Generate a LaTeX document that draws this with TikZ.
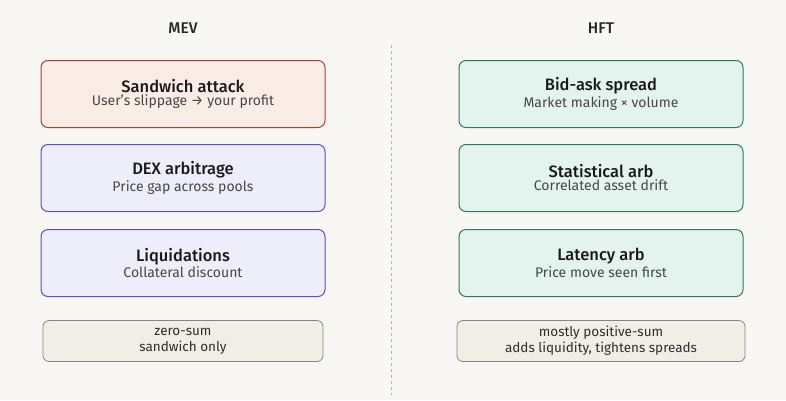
\documentclass[tikz,border=0pt]{standalone}
\usepackage{fontspec}
\setmainfont{Fira Sans}[BoldFont={Fira Sans Medium}]
\newcommand\cardttl{\fontsize{16.5}{20}\selectfont\bfseries\color{black!90}}
\newcommand\cardsub{\fontsize{14}{17}\selectfont\mdseries\color{black!72}}
\begin{document}
\begin{tikzpicture}[x=1pt,y=-1pt,
 card/.style={draw,rounded corners=7pt,line width=1pt,minimum width=284pt,minimum height=67pt,align=center,inner sep=0pt},
 note/.style={draw,rounded corners=6pt,line width=0.8pt,minimum width=280pt,minimum height=41pt,align=center,inner sep=0pt,fill=noteF,draw=noteD,font=\fontsize{13.5}{16}\selectfont,text=black!82},
 hd/.style={font=\fontsize{15.5}{18}\selectfont\bfseries,text=black!85}]
\definecolor{bg}{HTML}{F8F7F4}
\definecolor{redF}{HTML}{FBECE6}\definecolor{redD}{HTML}{A8432A}
\definecolor{bluF}{HTML}{EEEEFB}\definecolor{bluD}{HTML}{5B4FCF}
\definecolor{grnF}{HTML}{E3F4EE}\definecolor{grnD}{HTML}{2E7A5C}
\definecolor{noteF}{HTML}{F1EEE8}\definecolor{noteD}{HTML}{8A857C}
\fill[bg] (0,0) rectangle (786,400);
\useasboundingbox (0,0) rectangle (786,400);
\node[hd] (mev) at (183,28) {MEV};
\node[hd] (hft) at (601,28) {HFT};
\coordinate (d1) at (391,45); \coordinate (d2) at (391,395);
\draw[black!30,dashed,line width=1pt] (d1) -- (d2);
\node[card,fill=redF,draw=redD] (sw) at (183,94) {\cardttl Sandwich attack\\[1pt]\cardsub User’s slippage → your profit};
\node[card,fill=bluF,draw=bluD] (dex) at (183,178) {\cardttl DEX arbitrage\\[1pt]\cardsub Price gap across pools};
\node[card,fill=bluF,draw=bluD] (liq) at (183,263) {\cardttl Liquidations\\[1pt]\cardsub Collateral discount};
\node[note] (n1) at (183,341) {zero-sum\\sandwich only};
\node[card,fill=grnF,draw=grnD] (bid) at (601,94) {\cardttl Bid-ask spread\\[1pt]\cardsub Market making × volume};
\node[card,fill=grnF,draw=grnD] (stat) at (601,178) {\cardttl Statistical arb\\[1pt]\cardsub Correlated asset drift};
\node[card,fill=grnF,draw=grnD] (lat) at (601,263) {\cardttl Latency arb\\[1pt]\cardsub Price move seen first};
\node[note,minimum width=288pt] (n2) at (601,341) {mostly positive-sum\\adds liquidity, tightens spreads};
\end{tikzpicture}
\end{document}
